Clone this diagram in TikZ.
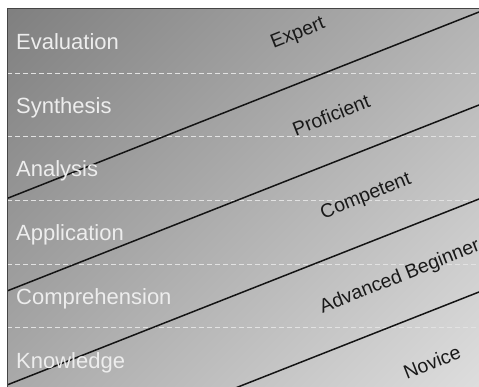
\documentclass[tikz,border=0pt]{standalone}
\usepackage{fontspec}
\setmainfont{Liberation Sans}
\definecolor{bgdark}{HTML}{6C6C6C}
\definecolor{bglight}{HTML}{F2F2F2}
\definecolor{framec}{HTML}{454545}
\definecolor{dashc}{HTML}{E2E2E2}
\pgfdeclareverticalshading{diagfade}{100bp}{color(0bp)=(bglight); color(100bp)=(bgdark)}
\begin{document}
\begin{tikzpicture}[x=1pt,y=-1pt,
  bloom/.style={anchor=base west, text=white!93!black, font=\fontsize{22}{25}\selectfont, inner sep=0pt},
  dreyfus/.style={rotate=21.6, text=black!90, font=\fontsize{19.5}{22}\selectfont, inner sep=0pt},
  boundary/.style={line width=1.5pt, black!92},
  rowsep/.style={dash pattern=on 5pt off 3pt, dashc, line width=0.9pt}]
\useasboundingbox (0,0) rectangle (479,387);
\fill[white] (0,0) rectangle (479,387);
\begin{scope}
\clip (7,9) rectangle (479,387);
\shade[shading=diagfade, shading angle=45] (7,9) rectangle (485,393);
% row separators
\foreach \yy in {73,136,200,264,327} {
  \draw[rowsep] (7,\yy) -- (479,\yy);
}
% level boundaries
\coordinate (b1s) at (7,198.5);  \coordinate (b1e) at (479,12);
\coordinate (b2s) at (7,291);    \coordinate (b2e) at (479,105);
\coordinate (b3s) at (7,385);    \coordinate (b3e) at (479,199);
\coordinate (b4s) at (7,478);    \coordinate (b4e) at (479,292);
\draw[boundary] (b1s) -- (b1e);
\draw[boundary] (b2s) -- (b2e);
\draw[boundary] (b3s) -- (b3e);
\draw[boundary] (b4s) -- (b4e);
% Bloom levels
\node[bloom] (eval) at (16,50) {Evaluation};
\node[bloom] (synt) at (16,114) {Synthesis};
\node[bloom] (anal) at (16,177) {Analysis};
\node[bloom] (appl) at (16,241) {Application};
\node[bloom] (comp) at (16,305) {Comprehension};
\node[bloom] (know) at (16,368) {Knowledge};
% Dreyfus stages
\node[dreyfus] (expert) at (298,34) {Expert};
\node[dreyfus] (prof) at (331,115) {Proficient};
\node[dreyfus] (compet) at (366,197) {Competent};
\node[dreyfus] (advb) at (400,277) {Advanced Beginner};
\node[dreyfus] (novice) at (432,362) {Novice};
\end{scope}
\draw[framec, line width=1pt] (7,390) -- (7,9) -- (482,9);
\end{tikzpicture}
\end{document}
